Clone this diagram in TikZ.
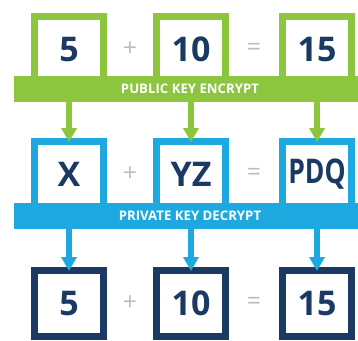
\documentclass[tikz,border=0pt]{standalone}
\usepackage{fontspec}
\setmainfont{Open Sans}
\usepackage{graphicx}
\usepackage{xcolor}
\usepackage{tikz}
\usetikzlibrary{
    positioning,
    arrows.meta,
    calc
}

\definecolor{keygreen}{HTML}{8CC63F}
\definecolor{keyblue}{HTML}{1DA9E0}
\definecolor{navy}{HTML}{1A3A63}
\definecolor{opgrey}{HTML}{BDBDBD}

\begin{document}
\begin{tikzpicture}[
    x=1pt, y=-1pt,
    node distance=52pt and 46pt,
    numbox/.style={rectangle, draw=#1, fill=white, line width=7pt, minimum width=69pt, minimum height=66pt, inner sep=0pt, text=navy, font=\fontsize{34}{34}\selectfont\bfseries},
    keybar/.style={rectangle, fill=#1, minimum width=352pt, minimum height=26pt, inner sep=0pt, text=white, font=\fontsize{13.2}{13.2}\selectfont\bfseries},
    op/.style={text=opgrey, font=\fontsize{25}{25}\selectfont},
    arrow/.style={-{Triangle[width=15pt, length=14pt]}, line width=6pt, draw=#1, shorten >=-4pt}
]
\useasboundingbox (0,0) rectangle (358,340);

% plain numbers
\node[numbox=keygreen] (top1) at (69,49.5) {5};
\node[numbox=keygreen, right=of top1] (top2) {10};
\node[numbox=keygreen, right=50pt of top2] (top3) {15};

% encrypted values
\node[numbox=keyblue, below=of top1] (mid1) {X};
\node[numbox=keyblue, below=of top2] (mid2) {YZ};
\node[numbox=keyblue, below=of top3] (mid3) {\scalebox{0.78}[1]{PDQ}};

% decrypted numbers
\node[numbox=navy, below=56pt of mid1] (bot1) {5};
\node[numbox=navy, below=56pt of mid2] (bot2) {10};
\node[numbox=navy, below=56pt of mid3] (bot3) {15};

% operators between the boxes
\node[op] (plustop) at ($(top1)!0.5!(top2)$) {+};
\node[op] (eqtop) at ($(top2)!0.5!(top3)$) {=};
\node[op] (plusmid) at ($(mid1)!0.5!(mid2)$) {+};
\node[op] (eqmid) at ($(mid2)!0.5!(mid3)$) {=};
\node[op] (plusbot) at ($(bot1)!0.5!(bot2)$) {+};
\node[op] (eqbot) at ($(bot2)!0.5!(bot3)$) {=};

% key bars
\node[keybar=keygreen] (encrypt) at (190,89) {PUBLIC KEY ENCRYPT};
\node[keybar=keyblue] (decrypt) at (190,216) {PRIVATE KEY DECRYPT};

\draw[arrow=keygreen] (encrypt.south -| mid1) -- (mid1.north);
\draw[arrow=keygreen] (encrypt.south -| mid2) -- (mid2.north);
\draw[arrow=keygreen] (encrypt.south -| mid3) -- (mid3.north);

\draw[arrow=keyblue] (decrypt.south -| bot1) -- (bot1.north);
\draw[arrow=keyblue] (decrypt.south -| bot2) -- (bot2.north);
\draw[arrow=keyblue] (decrypt.south -| bot3) -- (bot3.north);
\end{tikzpicture}
\end{document}
